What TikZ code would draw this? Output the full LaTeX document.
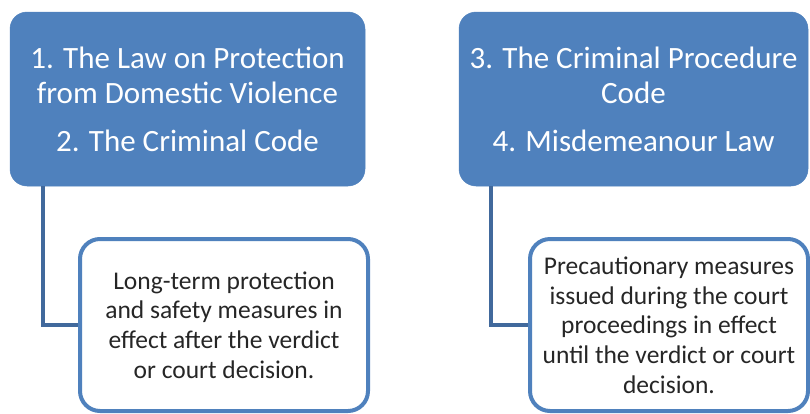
\documentclass[tikz,border=0pt]{standalone}
\usepackage{fontspec}
\setmainfont{Carlito}
\begin{document}
\definecolor{accent}{HTML}{4F81BD}
\definecolor{linkblue}{HTML}{41699C}
\definecolor{bodytext}{HTML}{262626}
\begin{tikzpicture}[x=1pt,y=-1pt,
  lawbox/.style={rectangle, rounded corners=17pt, fill=accent, draw=accent, line width=0.5pt,
    text=white, align=center, inner sep=0pt,
    font=\fontsize{31}{35}\selectfont},
  notebox/.style={rectangle, rounded corners=20pt, fill=white, draw=accent, line width=4pt,
    text=bodytext, align=center, inner sep=0pt,
    font=\fontsize{25.5}{29.7}\selectfont},
  link/.style={draw=linkblue, line width=4.5pt}]
\useasboundingbox (0,0) rectangle (810,413);

% upper boxes: the laws
\node[lawbox, minimum width=355pt, minimum height=174pt] (lawA) at (187.5,99)
  {1. The Law on Protection\\from Domestic Violence\\[13pt]2. The Criminal Code};
\node[lawbox, minimum width=349pt, minimum height=174pt] (lawB) at (633.5,99)
  {3. The Criminal Procedure\\Code\\[13pt]4. Misdemeanour Law};

% lower boxes: the measures
\node[notebox, minimum width=288pt, minimum height=172pt] (noteA) at (224,325)
  {Long-term protection\\and safety measures in\\effect after the verdict\\or court decision.};
\node[notebox, minimum width=278pt, minimum height=172pt] (noteB) at (669,325)
  {Precautionary measures\\issued during the court\\proceedings in effect\\until the verdict or court\\decision.};

% elbow connectors
\coordinate (startA) at ([xshift=33pt]lawA.south west);
\coordinate (startB) at ([xshift=32pt]lawB.south west);
\draw[link] (startA) |- (noteA.west);
\draw[link] (startB) |- (noteB.west);
\end{tikzpicture}
\end{document}
